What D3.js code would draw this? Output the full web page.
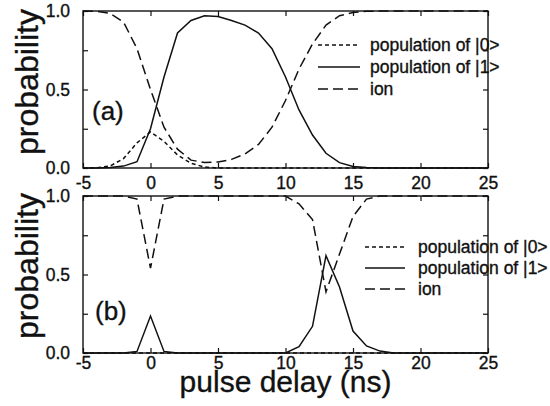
<!DOCTYPE html>
<html>
<head>
<meta charset="utf-8">
<script src="https://cdn.jsdelivr.net/npm/d3@7"></script>
<style>
  body { margin: 0; background: #fff; }
  svg { display: block; font-family: "Liberation Sans", Arial, Helvetica, sans-serif; }
  svg text { stroke: #111; stroke-width: 0.35; }
  .axis .domain { display: none; }
  .axis line { stroke: #111; stroke-width: 1.2; }
  .axis text { fill: #111; font-size: 17.5px; }
</style>
</head>
<body>
<script>
// pulse delay (ns), 1 ns steps
const delays = [-5, -4, -3, -2, -1, 0, 1, 2, 3, 4, 5, 6, 7, 8, 9, 10,
  11, 12, 13, 14, 15, 16, 17, 18, 19, 20, 21, 22, 23, 24, 25];

// panel (a)
const pop0A = [0, 0.002, 0.012, 0.06, 0.16, 0.23, 0.17, 0.083, 0.03, 0.006, 0, 0, 0, 0, 0, 0,
  0, 0, 0, 0, 0, 0, 0, 0, 0, 0, 0, 0, 0, 0, 0];
const pop1A = [0, 0, 0.003, 0.012, 0.04, 0.25, 0.58, 0.86, 0.94, 0.97, 0.965, 0.94, 0.91, 0.86, 0.76, 0.58,
  0.37, 0.21, 0.094, 0.034, 0.01, 0.003, 0, 0, 0, 0, 0, 0, 0, 0, 0];
const ionA = [1, 0.998, 0.985, 0.93, 0.76, 0.5, 0.26, 0.12, 0.05, 0.035, 0.038, 0.055, 0.09, 0.15, 0.26, 0.43,
  0.63, 0.79, 0.91, 0.97, 0.99, 0.998, 1, 1, 1, 1, 1, 1, 1, 1, 1];

// panel (b)
const pop0B = [0, 0, 0, 0, 0, 0, 0, 0, 0, 0, 0, 0, 0, 0, 0, 0,
  0, 0, 0, 0, 0, 0, 0, 0, 0, 0, 0, 0, 0, 0, 0];
const pop1B = [0, 0, 0, 0, 0.01, 0.235, 0.01, 0, 0, 0, 0, 0, 0, 0, 0, 0,
  0.04, 0.17, 0.62, 0.42, 0.14, 0.045, 0.012, 0, 0, 0, 0, 0, 0, 0, 0];
const ionB = [1, 1, 1, 1, 0.98, 0.54, 0.98, 1, 1, 1, 1, 1, 1, 1, 1, 1,
  0.95, 0.85, 0.39, 0.63, 0.87, 0.98, 1, 1, 1, 1, 1, 1, 1, 1, 1];

const seriesNames = ['population of |0>', 'population of |1>', 'ion'];
const xTicks = [-5, 0, 5, 10, 15, 20, 25];
const yTicks = [0, 0.25, 0.5, 0.75, 1];
const yLabelTicks = [0, 0.5, 1];

const width = 550;
const height = 406;

// dash style per series
const dashes = ['4,3', null, '10,5'];

const panels = [
  { tag: '(a)', top: 11, bottom: 168, series: [pop0A, pop1A, ionA],
    tagPos: [92, 120], labelPad: 9, ylabelY: 82,
    legend: { x0: 318, x1: 360, tx: 370, y: [45, 67, 89] } },
  { tag: '(b)', top: 196, bottom: 353, series: [pop0B, pop1B, ionB],
    tagPos: [95, 320], labelPad: 4, ylabelY: 266,
    legend: { x0: 365, x1: 405, tx: 418, y: [247, 268, 289] } }
];

const svg = d3.select('body').append('svg')
  .attr('width', width)
  .attr('height', height);

const x = d3.scaleLinear().domain([-5, 25]).range([83, 488]);

panels.forEach(p => {
  const y = d3.scaleLinear().domain([0, 1]).range([p.bottom, p.top]);

  // curves
  const line = d3.line()
    .x((d, i) => x(delays[i]))
    .y(d => y(d));

  p.series.forEach((vals, k) => {
    svg.append('path')
      .datum(vals)
      .attr('d', line)
      .attr('fill', 'none')
      .attr('stroke', '#111')
      .attr('stroke-width', 1.5)
      .attr('stroke-dasharray', dashes[k]);
  });

  // frame
  svg.append('rect')
    .attr('x', x(-5))
    .attr('y', p.top)
    .attr('width', x(25) - x(-5))
    .attr('height', p.bottom - p.top)
    .attr('fill', 'none')
    .attr('stroke', '#111')
    .attr('stroke-width', 1.4);

  // axes, ticks pointing inward
  svg.append('g')
    .attr('class', 'axis')
    .attr('transform', `translate(0,${p.bottom})`)
    .call(d3.axisBottom(x).tickValues(xTicks).tickSize(-5).tickPadding(p.labelPad)
      .tickFormat(d => String(d)));

  svg.append('g')
    .attr('class', 'axis')
    .attr('transform', `translate(0,${p.top})`)
    .call(d3.axisTop(x).tickValues(xTicks).tickSize(-5).tickFormat(''));

  svg.append('g')
    .attr('class', 'axis')
    .attr('transform', `translate(${x(-5)},0)`)
    .call(d3.axisLeft(y).tickValues(yTicks).tickSize(-5).tickPadding(13)
      .tickFormat(d => yLabelTicks.includes(d) ? d3.format('.1f')(d) : ''));

  svg.append('g')
    .attr('class', 'axis')
    .attr('transform', `translate(${x(25)},0)`)
    .call(d3.axisRight(y).tickValues(yTicks).tickSize(-5).tickFormat(''));

  // y title
  svg.append('text')
    .attr('transform', `translate(38,${p.ylabelY}) rotate(-90)`)
    .attr('text-anchor', 'middle')
    .attr('font-size', 32)
    .attr('fill', '#111')
    .text('probability');

  // panel tag
  svg.append('text')
    .attr('x', p.tagPos[0])
    .attr('y', p.tagPos[1])
    .attr('font-size', 26)
    .attr('fill', '#111')
    .text(p.tag);

  // legend
  const lg = p.legend;
  seriesNames.forEach((name, k) => {
    svg.append('line')
      .attr('x1', lg.x0).attr('x2', lg.x1)
      .attr('y1', lg.y[k]).attr('y2', lg.y[k])
      .attr('stroke', '#111')
      .attr('stroke-width', 1.3)
      .attr('stroke-dasharray', dashes[k]);
    svg.append('text')
      .attr('x', lg.tx)
      .attr('y', lg.y[k])
      .attr('dy', '0.35em')
      .attr('font-size', 17.5)
      .attr('fill', '#111')
      .text(name);
  });
});

// x title
svg.append('text')
  .attr('x', (x(-5) + x(25)) / 2)
  .attr('y', 392)
  .attr('text-anchor', 'middle')
  .attr('font-size', 30)
  .attr('fill', '#111')
  .text('pulse delay (ns)');
</script>
</body>
</html>
